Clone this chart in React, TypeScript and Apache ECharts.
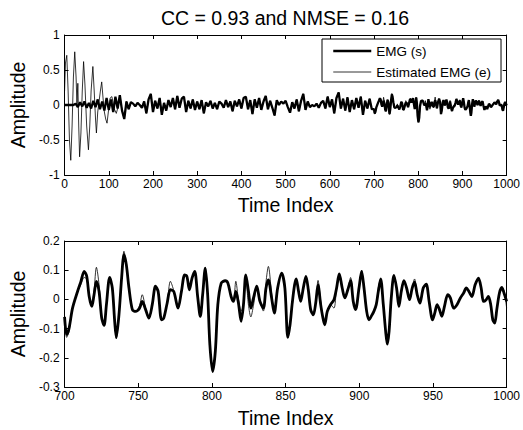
import { useEffect, useRef } from "react";
import * as echarts from "echarts";

const FONT = "'Liberation Sans', Arial, Helvetica, sans-serif";
const titleText = "CC = 0.93 and NMSE = 0.16";
const seriesNames = ["EMG (s)", "Estimated EMG (e)"];

// Top panel: EMG (s) sampled every 5 indices from 0 to 695
const topStep = 5;
const topS = [
  0, 0, 0, 0, 0.0, 0.02, -0.03, 0.04, -0.02, 0.05,
  -0.04, 0.03, -0.05, 0.06, -0.03, 0.08, -0.06, 0.05, -0.08, 0.1,
  -0.07, 0.08, -0.1, 0.12, -0.05, 0.14, -0.08, -0.2, 0.05, -0.06,
  0.04, 0.02, -0.02, 0.03, 0.0, -0.04, 0.05, -0.12, 0.08, 0.16,
  -0.1, 0.06, -0.05, 0.1, -0.14, 0.03, -0.08, 0.07, -0.03, 0.1,
  -0.06, 0.13, -0.04, 0.09, 0.12, -0.1, 0.06, -0.05, 0.08, -0.07,
  0.05, -0.06, 0.07, -0.12, 0.04, -0.02, 0.06, -0.05, 0.03, -0.06,
  0.05, 0.02, -0.04, 0.07, -0.03, 0.05, -0.09, 0.06, -0.02, 0.08,
  -0.05, 0.1, 0.12, -0.06, 0.07, -0.13, 0.08, -0.04, 0.1, -0.07,
  0.05, 0.13, -0.06, 0.06, -0.04, -0.15, 0.07, 0.0, 0.05, 0.02,
  0.06, -0.03, -0.11, 0.04, -0.05, 0.08, -0.09, 0.06, 0.16, -0.07,
  0.05, -0.03, 0.0, -0.02, 0.02, -0.04, 0.03, 0.06, -0.05, 0.12,
  -0.03, 0.08, -0.12, 0.1, 0.18, -0.05, 0.09, -0.08, 0.11, -0.1,
  0.07, -0.06, 0.1, -0.04, 0.12, -0.14, 0.06, -0.05, 0.09, -0.06,
];

// Estimated EMG (e) in the first samples (large decaying oscillation)
const earlyEX = [0, 2, 5, 8, 11, 14, 17, 20, 23, 26, 28, 30, 32, 34, 37, 40, 43, 46, 50, 54, 57, 60, 64, 67, 70, 72, 75, 78, 81, 84, 87, 90, 93, 96, 99, 103, 107, 112, 117];
const earlyEY = [0.2, 0.6, 0.71, 0.2, -0.5, -0.79, -0.3, 0.4, 0.76, 0.4, 0.0, 0.31, -0.3, -0.74, -0.4, 0.2, 0.62, 0.3, -0.3, -0.64, -0.3, 0.2, 0.55, 0.2, -0.2, -0.4, -0.1, 0.05, 0.2, 0.33, 0.1, -0.1, -0.2, -0.26, -0.1, 0.1, 0.12, -0.05, -0.12];
const earlyEnd = 120;

// Detailed segment 700 - 1000
const zoomX = [
  700, 701.4, 703, 705.4, 708.8, 711, 713.3, 715, 716.7, 718.5,
  720, 721.6, 723.4, 725.2, 726.8, 728.4, 730.6, 732.4, 734, 735.1,
  736.9, 738.7, 740.3, 741.9, 743.7, 746, 748.2, 750.9, 752.7, 755,
  757.2, 759.5, 761.7, 763.5, 765.8, 767.3, 769.6, 771.8, 774.1, 777,
  779.3, 781.5, 783, 784.7, 786.5, 788.3, 790.3, 792.1, 793.7, 795.5,
  797.1, 798.6, 800.5, 802.3, 804, 806.3, 809, 810.8, 813, 814.6,
  816.2, 818, 819.8, 821.4, 823, 824.8, 826.4, 828.2, 830.4, 832.6,
  834.9, 836.7, 838.3, 840.5, 842.3, 844.6, 847.3, 849.5, 851.5, 853,
  854.5, 856.1, 857.2, 858.8, 860.2, 862, 863.8, 865.4, 867, 868.8,
  870.4, 872, 873.8, 875.1, 876.5, 878.3, 880.5, 882.8, 884.6, 886.4,
  888.4, 890.2, 892.2, 894.1, 895.9, 897.5, 899.8, 901.6, 903.2, 905,
  906.6, 908.1, 909.9, 911.5, 912.9, 914.5, 916.3, 917.9, 919, 920.2,
  921.7, 923.5, 925.3, 926.9, 928.5, 930.3, 932.1, 934.1, 935.9, 937.5,
  939.3, 941.1, 943.4, 945.4, 947.4, 949.7, 951.2, 952.8, 954.4, 956,
  957.8, 960, 961.8, 964.1, 966.3, 968.6, 970.8, 972.6, 974.4, 976.4,
  978.6, 980.9, 982.7, 984.3, 986.1, 987.6, 989.2, 990.6, 991.9, 993.3,
  995.1, 996.7, 998.2, 1000,
];
const zoomS = [
  -0.06, -0.12, -0.1, -0.03, 0.027, 0.06, 0.096, 0.08, 0.01, -0.024,
  0.016, 0.062, 0.027, -0.064, -0.089, -0.018, 0.075, 0.039, -0.075, -0.13,
  -0.053, 0.073, 0.153, 0.119, 0.039, -0.035, -0.041, -0.03, -0.007, -0.035,
  -0.064, -0.018, 0.045, 0.027, -0.07, -0.064, -0.013, 0.033, 0.027, -0.03,
  0.027, 0.084, 0.079, 0.033, 0.073, 0.096, 0.01, -0.058, 0.016, 0.107,
  0.016, -0.155, -0.247, -0.178, -0.018, 0.056, 0.064, 0.056, 0.01, -0.007,
  0.027, -0.013, -0.075, -0.018, 0.084, 0.027, -0.03, 0.005, 0.045, -0.007,
  -0.03, 0.039, 0.067, 0.005, -0.047, 0.039, 0.09, 0.039, -0.13, -0.087,
  -0.013, 0.05, 0.07, 0.027, -0.007, 0.039, 0.079, 0.033, -0.035, -0.053,
  -0.013, 0.05, -0.018, -0.058, -0.087, -0.041, -0.018, -0.001, 0.039, 0.087,
  0.039, 0.005, 0.033, 0.064, -0.007, -0.035, 0.039, 0.096, 0.039, -0.041,
  -0.07, -0.058, -0.041, -0.018, 0.027, 0.07, -0.018, -0.11, -0.153, -0.11,
  0.005, 0.082, 0.039, -0.024, 0.027, 0.064, 0.039, -0.001, 0.039, 0.059,
  0.016, -0.013, 0.039, 0.052, -0.007, -0.07, -0.047, -0.018, -0.035, -0.058,
  -0.024, 0.016, 0.005, -0.03, -0.018, 0.005, 0.022, 0.039, 0.027, 0.01,
  0.05, 0.073, 0.039, -0.007, -0.001, 0.01, -0.018, -0.07, -0.081, -0.035,
  0.022, 0.041, 0.022, -0.007,
];
const zoomE = [
  -0.06, -0.13, -0.11, -0.03, 0.027, 0.05, 0.075, 0.07, 0.01, -0.024,
  0.03, 0.11, 0.05, -0.064, -0.089, -0.018, 0.075, 0.039, -0.075, -0.135,
  -0.053, 0.073, 0.165, 0.119, 0.039, -0.035, -0.041, -0.02, 0.016, -0.03,
  -0.064, -0.018, 0.045, 0.027, -0.07, -0.064, -0.013, 0.062, 0.03, -0.03,
  0.027, 0.084, 0.079, 0.033, 0.073, 0.096, 0.01, -0.058, 0.016, 0.11,
  0.016, -0.155, -0.247, -0.178, -0.018, 0.056, 0.06, 0.056, 0.01, -0.007,
  0.062, 0.0, -0.04, -0.018, 0.07, -0.02, -0.06, -0.02, 0.04, -0.007,
  -0.04, 0.06, 0.113, 0.02, -0.047, 0.039, 0.09, 0.039, -0.13, -0.087,
  -0.013, 0.05, 0.07, 0.027, -0.007, 0.039, 0.07, 0.033, -0.035, -0.053,
  -0.013, 0.065, -0.005, -0.058, -0.087, -0.041, -0.018, -0.03, 0.039, 0.087,
  0.039, 0.005, 0.033, 0.075, -0.007, -0.035, 0.039, 0.1, 0.039, -0.041,
  -0.07, -0.058, -0.041, -0.018, 0.04, 0.07, -0.018, -0.11, -0.153, -0.11,
  0.005, 0.082, 0.039, -0.024, 0.027, 0.064, 0.039, -0.001, 0.039, 0.07,
  0.016, -0.013, 0.039, 0.052, -0.007, -0.07, -0.047, -0.018, -0.035, -0.058,
  -0.024, 0.016, 0.005, -0.03, -0.018, 0.005, 0.022, 0.039, 0.027, 0.01,
  0.05, 0.073, 0.039, -0.007, -0.001, 0.01, -0.018, -0.07, -0.081, -0.035,
  0.022, 0.041, 0.03, -0.03,
];

export default function App() {
  const ref = useRef<HTMLDivElement>(null);
  useEffect(() => {
    if (!ref.current) return;
    const chart = echarts.init(ref.current, undefined, { renderer: "svg" });

    const topMain = topS.map((v, i) => [i * topStep, v]);
    const zoomSPairs = zoomX.map((x, i) => [x, zoomS[i]]);
    const zoomEPairs = zoomX.map((x, i) => [x, zoomE[i]]);
    const topThick = topMain.concat(zoomSPairs);
    const topThin = earlyEX
      .map((x, i) => [x, earlyEY[i]])
      .concat(topMain.filter((p) => p[0] >= earlyEnd))
      .concat(zoomEPairs);

    const axisCommon = {
      axisLine: { show: true, onZero: false, lineStyle: { color: "#000", width: 1 } },
      axisTick: { show: true, inside: true, length: 4, lineStyle: { color: "#000", width: 1 } },
      splitLine: { show: false },
    };
    const labelStyle = { color: "#000", fontSize: 12, fontFamily: FONT };
    const nameStyle = { color: "#000", fontSize: 19.5, fontFamily: FONT };
    const fmtY = (v: number) => String(Math.round(v * 10) / 10);
    const fmtX = (v: number) => String(Math.round(v));

    const grids = [
      { left: 62, width: 445, top: 35, height: 140 },
      { left: 62, width: 445, top: 241, height: 146 },
    ];

    const xAx = (gi: number, min: number, max: number, interval: number, pos: string, labels: boolean, gap: number) => ({
      type: "value",
      gridIndex: gi,
      min,
      max,
      interval,
      position: pos,
      ...axisCommon,
      axisLabel: { show: labels, ...labelStyle, margin: 3, formatter: fmtX },
      name: labels ? "Time Index" : "",
      nameLocation: "middle",
      nameGap: gap,
      nameTextStyle: nameStyle,
    });
    const yAx = (gi: number, min: number, max: number, interval: number, pos: string, labels: boolean) => ({
      type: "value",
      gridIndex: gi,
      min,
      max,
      interval,
      position: pos,
      ...axisCommon,
      axisLabel: { show: labels, ...labelStyle, margin: 5, formatter: fmtY },
      name: labels ? "Amplitude" : "",
      nameLocation: "middle",
      nameGap: 36,
      nameTextStyle: nameStyle,
    });

    const lineSeries = (name: string, data: number[][], xi: number, width: number, z: number, smooth: number | boolean) => ({
      name,
      type: "line",
      xAxisIndex: xi,
      yAxisIndex: xi,
      data,
      symbol: "none",
      showSymbol: false,
      smooth,
      lineStyle: { color: "#000", width },
      itemStyle: { color: "#000" },
      emphasis: { disabled: true },
      z,
    });

    chart.setOption({
      animation: false,
      backgroundColor: "#fff",
      grid: grids,
      graphic: [
        {
          type: "text",
          x: 285,
          y: 18,
          style: {
            text: titleText,
            font: `19.5px ${FONT}`,
            fill: "#000",
            textAlign: "center",
            textVerticalAlign: "middle",
          },
        },
      ],
      legend: {
        data: [
          { name: seriesNames[0], lineStyle: { width: 2.5, color: "#000" } },
          { name: seriesNames[1], lineStyle: { width: 0.8, color: "#000" } },
        ],
        orient: "vertical",
        left: 322,
        top: 39,
        padding: [5, 10, 3, 10],
        itemGap: 7,
        itemWidth: 38,
        itemHeight: 14,
        borderColor: "#000",
        borderWidth: 1,
        borderRadius: 0,
        backgroundColor: "#fff",
        selectedMode: false,
        itemStyle: { opacity: 0, borderWidth: 0 },
        textStyle: { color: "#000", fontSize: 13.5, fontFamily: FONT },
      },
      xAxis: [
        xAx(0, 0, 1000, 100, "bottom", true, 20),
        xAx(0, 0, 1000, 100, "top", false, 20),
        xAx(1, 700, 1000, 50, "bottom", true, 21),
        xAx(1, 700, 1000, 50, "top", false, 21),
      ],
      yAxis: [
        yAx(0, -1, 1, 0.5, "left", true),
        yAx(0, -1, 1, 0.5, "right", false),
        yAx(1, -0.3, 0.2, 0.1, "left", true),
        yAx(1, -0.3, 0.2, 0.1, "right", false),
      ],
      series: [
        lineSeries(seriesNames[0], topThick, 0, 2.3, 3, false),
        lineSeries(seriesNames[1], topThin, 0, 0.8, 4, false),
        lineSeries(seriesNames[0], zoomSPairs, 2, 2.8, 3, 0.3),
        lineSeries(seriesNames[1], zoomEPairs, 2, 0.8, 4, 0.3),
      ],
    });
    return () => chart.dispose();
  }, []);
  return (
    <div
      ref={ref}
      style={{ position: "fixed", left: 0, top: 0, width: 523, height: 430, background: "#fff" }}
    />
  );
}
